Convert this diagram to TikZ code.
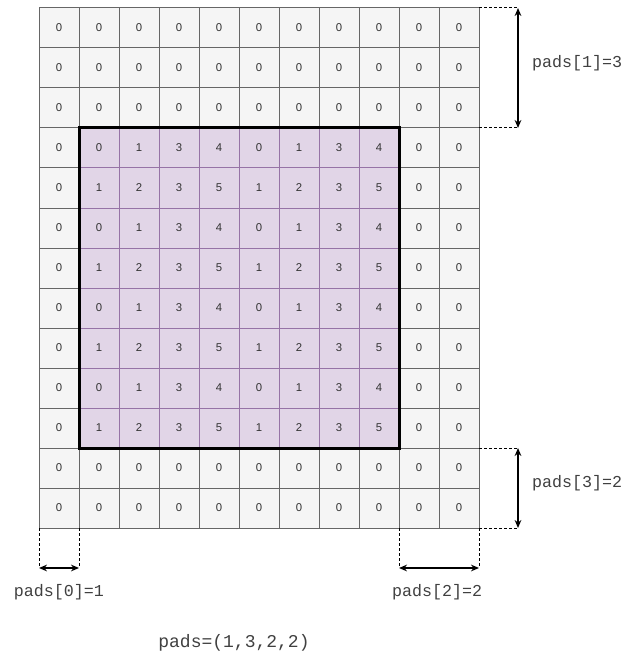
\documentclass[tikz,border=0pt]{standalone}
\usepackage{fontspec}
\setmainfont{Liberation Sans}
\setmonofont{Liberation Mono}
\usetikzlibrary{arrows.meta,positioning,calc}
\definecolor{padfill}{HTML}{F5F5F5}
\definecolor{padline}{HTML}{666666}
\definecolor{datafill}{HTML}{E1D5E7}
\definecolor{dataline}{HTML}{9673A6}

\begin{document}
\begin{tikzpicture}[
  x=0.75pt, y=-0.75pt,
  pc/.style={draw=padline, fill=padfill, line width=0.75pt, minimum size=30pt, inner sep=0pt, outer sep=0pt, font=\fontsize{8.5}{10}\selectfont, text=black!80},
  dc/.style={pc, draw=dataline, fill=datafill},
  ext/.style={line width=0.75pt, dash pattern=on 2.25pt off 1.5pt},
  dim/.style={line width=1pt, {Stealth[length=6pt,width=5pt]}-{Stealth[length=6pt,width=5pt]}},
  lbl/.style={font=\ttfamily\fontsize{12.5}{14}\selectfont, text=black!75}
]
\useasboundingbox (0,0) rectangle (637,659);

% padded grid
\foreach \r in {0,...,12}
  \foreach \c in {0,...,10}
    \node[pc] (c-\r-\c) at (59+40*\c, 28+40*\r) {0};

% input data
\foreach \r in {3,...,10}{
  \ifodd\r \def\vals{0,1,3,4,0,1,3,4}\else \def\vals{1,2,3,5,1,2,3,5}\fi
  \foreach \v [count=\c] in \vals
    \node[dc] (c-\r-\c) at (59+40*\c, 28+40*\r) {\v};
}
\draw[line width=2.25pt] (c-3-1.north west) rectangle (c-10-8.south east);

% pads[1] (top)
\draw[ext] (c-0-10.north east) -- ++(39,0) coordinate (p1t);
\draw[ext] (c-2-10.south east) -- ++(39,0) coordinate (p1b);
\draw[dim] (p1t) -- (p1b);
\node[lbl] (l1) at (577,63) {pads[1]=3};

% pads[3] (bottom)
\draw[ext] (c-10-10.south east) -- ++(39,0) coordinate (p3t);
\draw[ext] (c-12-10.south east) -- ++(39,0) coordinate (p3b);
\draw[dim] (p3t) -- (p3b);
\node[lbl] (l3) at (577,483) {pads[3]=2};

% pads[2] (right)
\draw[ext] (c-12-9.south west) -- ++(0,40) coordinate (p2l);
\draw[ext] (c-12-10.south east) -- ++(0,40) coordinate (p2r);
\draw[dim] (p2l) -- (p2r);
\node[lbl] (l2) at (437,592) {pads[2]=2};

% pads[0] (left)
\draw[ext] (c-12-0.south west) -- ++(0,40) coordinate (p0l);
\draw[ext] (c-12-0.south east) -- ++(0,40) coordinate (p0r);
\draw[dim] (p0l) -- (p0r);
\node[lbl] (l0) at (59,592) {pads[0]=1};

\node[lbl, font=\ttfamily\fontsize{13.5}{15}\selectfont] (all) at (234,643) {pads=(1,3,2,2)};
\end{tikzpicture}
\end{document}
